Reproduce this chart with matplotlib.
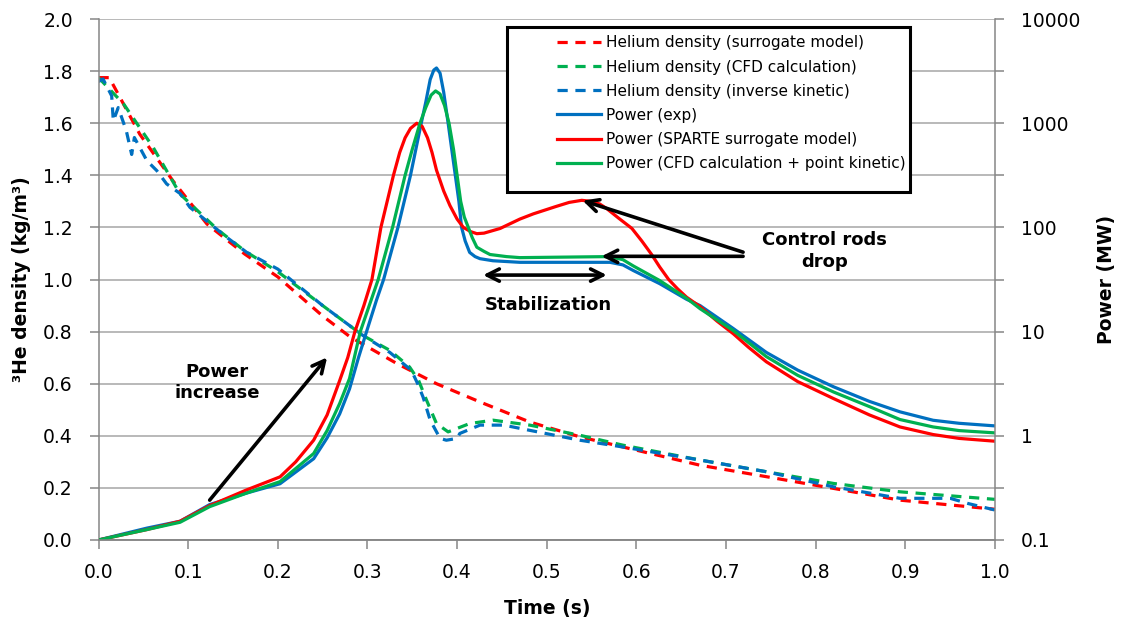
import numpy as np
import matplotlib
matplotlib.use('Agg')
import matplotlib.pyplot as plt
from matplotlib.ticker import FixedLocator, NullFormatter, FormatStrFormatter
from matplotlib.patches import Rectangle

# ---- helium density (kg/m3), left axis ----
t_he_sur = [0.0, 0.012, 0.020, 0.046, 0.083, 0.121, 0.163, 0.200, 0.250, 0.281, 0.333,
            0.377, 0.4255, 0.481, 0.537, 0.585, 0.671, 0.745, 0.820, 0.894, 1.0]
he_sur = [1.775, 1.775, 1.724, 1.558, 1.379, 1.213, 1.098, 1.01, 0.86, 0.779, 0.677,
          0.60, 0.530, 0.453, 0.396, 0.357, 0.287, 0.243, 0.198, 0.153, 0.118]

t_he_cfd = [0.0, 0.028, 0.061, 0.091, 0.132, 0.163, 0.200, 0.250, 0.295, 0.325, 0.347,
            0.357, 0.366, 0.377, 0.390, 0.414, 0.440, 0.481, 0.537, 0.585, 0.671,
            0.745, 0.820, 0.894, 1.0]
he_cfd = [1.775, 1.674, 1.507, 1.328, 1.194, 1.11, 1.03, 0.90, 0.785, 0.728, 0.664,
          0.613, 0.536, 0.447, 0.415, 0.447, 0.460, 0.441, 0.402, 0.364, 0.307,
          0.262, 0.217, 0.185, 0.156]

t_he_inv = [0.0, 0.005, 0.0147, 0.0165, 0.022, 0.031, 0.037, 0.040, 0.054, 0.065, 0.076,
            0.091, 0.102, 0.143, 0.165, 0.200, 0.250, 0.295, 0.325, 0.349, 0.356,
            0.362, 0.370, 0.381, 0.388, 0.400, 0.403, 0.4255, 0.452, 0.481, 0.537,
            0.585, 0.671, 0.745, 0.820, 0.894, 0.950, 0.970, 1.0]
he_inv = [1.76, 1.77, 1.705, 1.609, 1.66, 1.571, 1.48, 1.545, 1.456, 1.418, 1.367,
          1.33, 1.277, 1.162, 1.105, 1.04, 0.90, 0.785, 0.72, 0.651, 0.60,
          0.549, 0.460, 0.390, 0.383, 0.39, 0.409, 0.441, 0.441, 0.421, 0.383,
          0.357, 0.307, 0.262, 0.204, 0.160, 0.16, 0.14, 0.115]

# ---- power, right axis: values read as log10(MW) ----
t_p_exp = [0.0, 0.054, 0.091, 0.124, 0.165, 0.2025, 0.240, 0.255, 0.269, 0.280, 0.290,
           0.299, 0.310, 0.318, 0.326, 0.334, 0.341, 0.348, 0.354, 0.360, 0.365,
           0.370, 0.374, 0.377, 0.381, 0.385, 0.390, 0.394, 0.398, 0.402, 0.405,
           0.409, 0.414, 0.420, 0.4255, 0.440, 0.470, 0.520, 0.5705, 0.585, 0.5966,
           0.626, 0.656, 0.671, 0.708, 0.745, 0.780, 0.820, 0.860, 0.894, 0.931,
           0.960, 1.0]
lp_exp = [-1.0, -0.886, -0.82, -0.66, -0.55, -0.46, -0.22, -0.02, 0.21, 0.45, 0.75,
          1.0, 1.3, 1.5, 1.75, 2.0, 2.25, 2.5, 2.75, 3.0, 3.2,
          3.42, 3.51, 3.53, 3.48, 3.3, 3.0, 2.75, 2.5, 2.25, 2.0,
          1.87, 1.76, 1.72, 1.70, 1.68, 1.665, 1.665, 1.665, 1.64, 1.586,
          1.46, 1.31, 1.25, 1.03, 0.80, 0.63, 0.47, 0.33, 0.23, 0.149,
          0.12, 0.095]

t_p_sur = [0.0, 0.054, 0.091, 0.124, 0.165, 0.2025, 0.220, 0.240, 0.255, 0.269, 0.278,
           0.286, 0.296, 0.305, 0.315, 0.322, 0.329, 0.336, 0.342, 0.348, 0.355,
           0.361, 0.367, 0.372, 0.377, 0.385, 0.392, 0.400, 0.407, 0.415, 0.422,
           0.430, 0.448, 0.470, 0.485, 0.510, 0.525, 0.539, 0.550, 0.559, 0.567,
           0.580, 0.595, 0.606, 0.617, 0.626, 0.636, 0.646, 0.656, 0.671, 0.690,
           0.708, 0.725, 0.745, 0.780, 0.820, 0.860, 0.894, 0.931, 0.960, 1.0]
lp_sur = [-1.0, -0.90, -0.82, -0.67, -0.52, -0.394, -0.25, -0.042, 0.2, 0.53, 0.75,
          1.0, 1.25, 1.5, 2.0, 2.25, 2.5, 2.72, 2.86, 2.95, 3.0,
          2.97, 2.86, 2.72, 2.55, 2.35, 2.21, 2.08, 2.0, 1.96, 1.94,
          1.945, 1.99, 2.08, 2.13, 2.20, 2.24, 2.26, 2.25, 2.225, 2.18,
          2.09, 1.99, 1.87, 1.74, 1.62, 1.50, 1.41, 1.33, 1.24, 1.10,
          0.98, 0.85, 0.71, 0.52, 0.357, 0.20, 0.085, 0.012, -0.025, -0.052]

t_p_cfd = [0.0, 0.054, 0.091, 0.124, 0.165, 0.2025, 0.240, 0.255, 0.269, 0.280, 0.292,
           0.302, 0.312, 0.320, 0.328, 0.335, 0.342, 0.350, 0.3586, 0.365, 0.371,
           0.376, 0.381, 0.386, 0.391, 0.396, 0.400, 0.404, 0.408, 0.4125, 0.417,
           0.422, 0.430, 0.4367, 0.455, 0.470, 0.520, 0.5705, 0.585, 0.5966, 0.626,
           0.656, 0.671, 0.708, 0.745, 0.780, 0.820, 0.860, 0.894, 0.931, 0.960, 1.0]
lp_cfd = [-1.0, -0.90, -0.83, -0.68, -0.55, -0.44, -0.17, 0.05, 0.31, 0.55, 1.0,
          1.25, 1.5, 1.75, 2.0, 2.25, 2.5, 2.75, 3.0, 3.15, 3.27,
          3.31, 3.28, 3.17, 3.0, 2.75, 2.5, 2.25, 2.1, 2.0, 1.9,
          1.81, 1.77, 1.74, 1.72, 1.71, 1.715, 1.72, 1.69, 1.63, 1.49,
          1.32, 1.22, 1.01, 0.76, 0.58, 0.42, 0.28, 0.156, 0.085, 0.05, 0.028]

x_ticks = np.arange(0, 1.01, 0.1)
y_ticks = np.arange(0, 2.01, 0.2)
p_ticks = [0.1, 1, 10, 100, 1000, 10000]
p_labels = ['0.1', '1', '10', '100', '1000', '10000']

RED = '#FF0000'
GREEN = '#00B050'
BLUE = '#0070C0'
GRID = '#A6A6A6'
AX = '#868686'

fig = plt.figure(figsize=(11.22, 6.26), dpi=100)
ax = fig.add_axes([0.0878, 0.1374, 0.7990, 0.8322])
ax2 = ax.twinx()

dash = (0, (3.2, 2.4))
lw = 2.3
h1, = ax.plot(t_he_sur, he_sur, color=RED, lw=lw, ls=dash, label='Helium density (surrogate model)')
h2, = ax.plot(t_he_cfd, he_cfd, color=GREEN, lw=lw, ls=dash, label='Helium density (CFD calculation)')
h3, = ax.plot(t_he_inv, he_inv, color=BLUE, lw=lw, ls=dash, label='Helium density (inverse kinetic)')

h4, = ax2.plot(t_p_exp, np.power(10.0, lp_exp), color=BLUE, lw=lw, label='Power (exp)')
h5, = ax2.plot(t_p_sur, np.power(10.0, lp_sur), color=RED, lw=lw, label='Power (SPARTE surrogate model)')
h6, = ax2.plot(t_p_cfd, np.power(10.0, lp_cfd), color=GREEN, lw=lw,
               label='Power (CFD calculation + point kinetic)')

ax.set_xlim(0, 1)
ax.set_ylim(0, 2)
ax.set_xticks(x_ticks)
ax.set_yticks(y_ticks)
ax.xaxis.set_major_formatter(FormatStrFormatter('%.1f'))
ax.yaxis.set_major_formatter(FormatStrFormatter('%.1f'))
ax.yaxis.grid(True, color=GRID, lw=1.1)
ax.set_axisbelow(True)

ax2.set_yscale('log')
ax2.set_ylim(0.1, 10000)
ax2.yaxis.set_major_locator(FixedLocator(p_ticks))
ax2.set_yticklabels(p_labels)
ax2.yaxis.set_minor_locator(FixedLocator([10 ** (k + 0.5) for k in range(-1, 4)]))
ax2.yaxis.set_minor_formatter(NullFormatter())

for a in (ax, ax2):
    a.spines['top'].set_visible(False)
    for s in a.spines.values():
        s.set_color(AX)
        s.set_linewidth(1.1)
ax2.spines['left'].set_visible(False)
ax.spines['right'].set_visible(False)

ax.tick_params(axis='both', which='both', direction='out', length=6.5, width=1.1,
               color=AX, labelsize=13.5, labelcolor='black')
ax.tick_params(axis='y', pad=12)
ax.tick_params(axis='x', pad=10)
ax2.tick_params(axis='y', which='both', direction='out', length=6.5, width=1.1,
                color=AX, labelsize=13.5, labelcolor='black', pad=12)

ax.set_xlabel('Time (s)', fontsize=13.5, fontweight='bold', labelpad=12)
ax.set_ylabel('³He density (kg/m³)', fontsize=13.5, fontweight='bold', labelpad=9)
ax2.set_ylabel('Power (MW)', fontsize=13.5, fontweight='bold', labelpad=12)

# legend with its own frame
ax2.add_patch(Rectangle((0.4557, 0.668), 0.4493, 0.317, transform=ax2.transAxes,
                        fc='white', ec='black', lw=2.2, zorder=10))
leg = ax2.legend(handles=[h1, h2, h3, h4, h5, h6], loc='upper left',
                 bbox_to_anchor=(0.5114, 0.9687), frameon=False, fontsize=11,
                 handlelength=2.9, handletextpad=0.3, labelspacing=0.6,
                 borderpad=0, borderaxespad=0)
leg.set_zorder(11)

# annotations (positions in left-axis data units)
arr = dict(arrowstyle='->', lw=2.6, color='black', mutation_scale=22, shrinkA=0, shrinkB=0)
ax2.annotate('', xy=(0.255, 0.701), xytext=(0.124, 0.153),
             xycoords=ax.transData, textcoords=ax.transData, arrowprops=arr, zorder=12)
ax2.text(0.132, 0.605, 'Power\nincrease', transform=ax.transData, fontsize=13,
         fontweight='bold', ha='center', va='center', linespacing=1.25, zorder=12)

arr2 = dict(arr, arrowstyle='<->')
ax2.annotate('', xy=(0.567, 1.017), xytext=(0.429, 1.017),
             xycoords=ax.transData, textcoords=ax.transData, arrowprops=arr2, zorder=12)
ax2.text(0.502, 0.903, 'Stabilization', transform=ax.transData, fontsize=13,
         fontweight='bold', ha='center', va='center', zorder=12)

ax2.annotate('', xy=(0.540, 1.303), xytext=(0.719, 1.105),
             xycoords=ax.transData, textcoords=ax.transData, arrowprops=arr, zorder=12)
ax2.annotate('', xy=(0.561, 1.089), xytext=(0.719, 1.089),
             xycoords=ax.transData, textcoords=ax.transData, arrowprops=arr, zorder=12)
ax2.text(0.810, 1.11, 'Control rods\ndrop', transform=ax.transData, fontsize=13,
         fontweight='bold', ha='center', va='center', linespacing=1.25, zorder=12)

fig.savefig('out.png', dpi=100)
